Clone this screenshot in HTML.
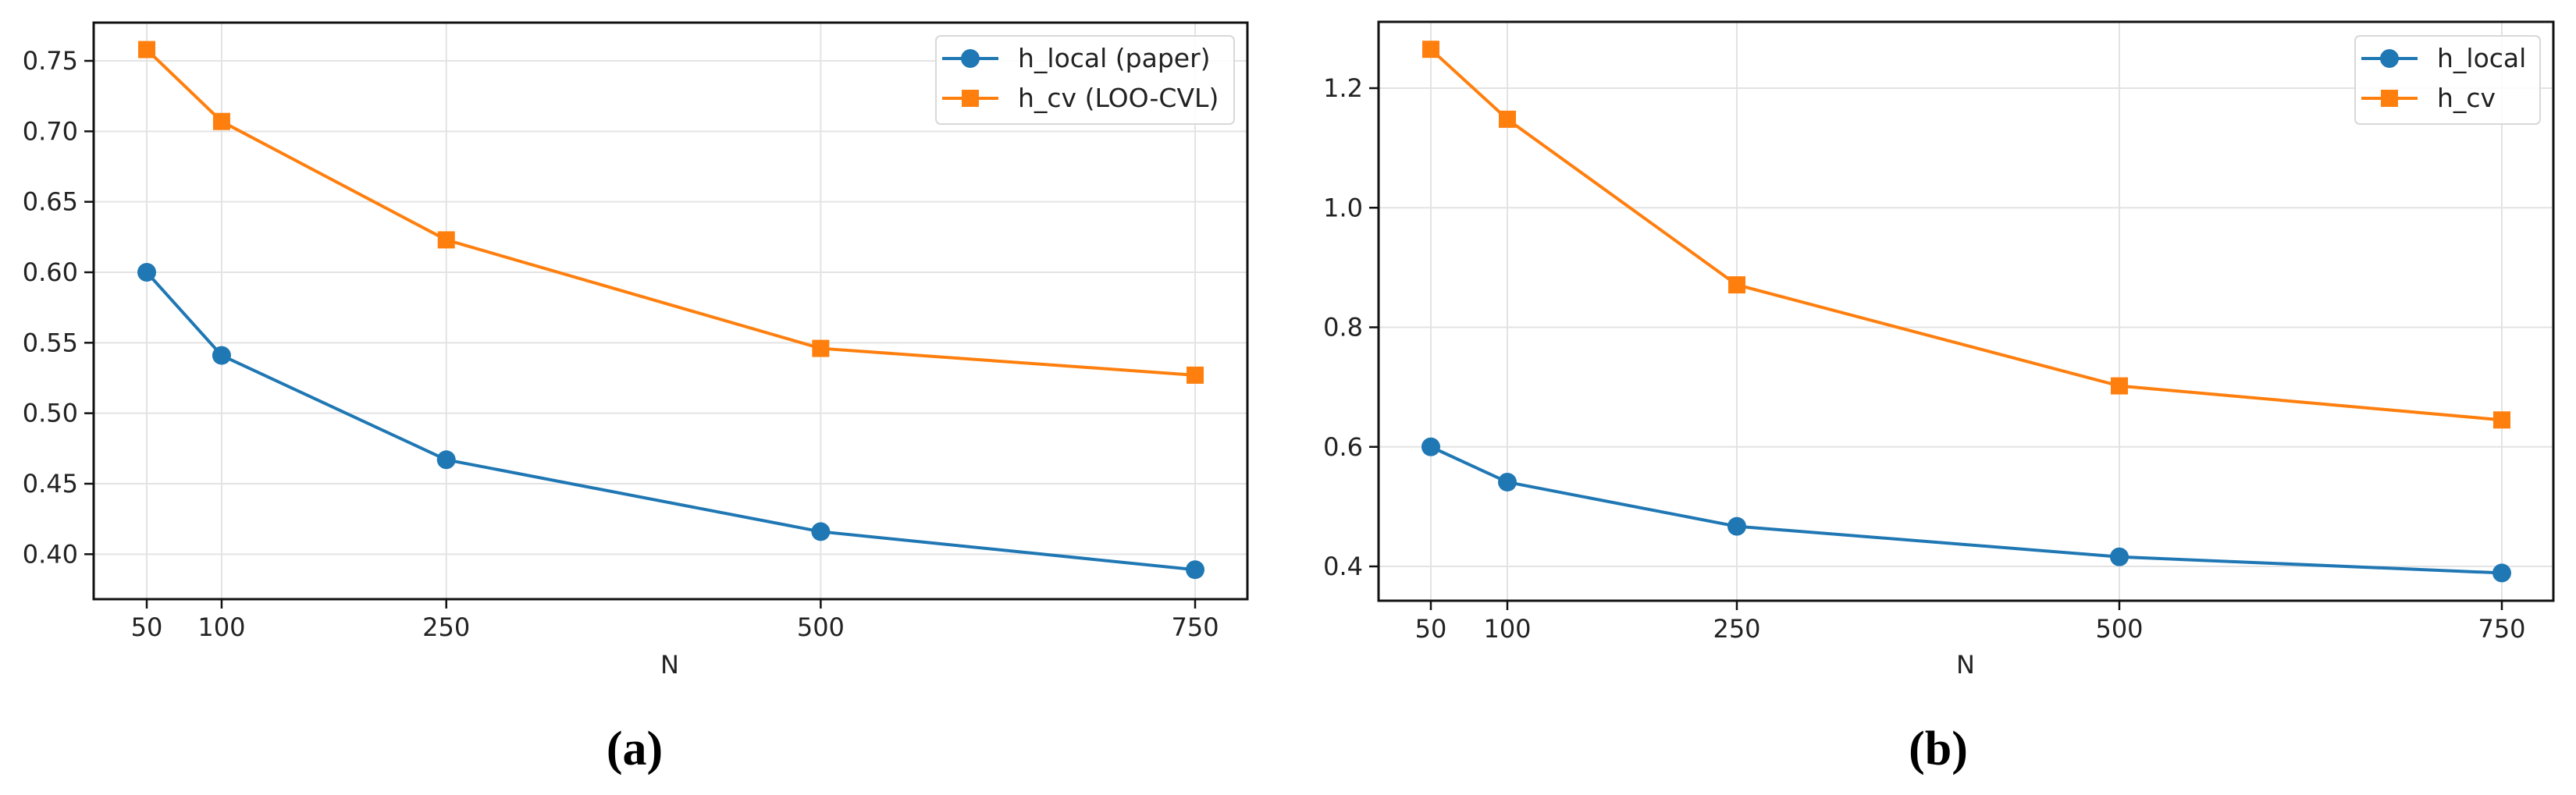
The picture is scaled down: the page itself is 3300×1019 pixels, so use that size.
<!DOCTYPE html>
<html><head><meta charset="utf-8">
<style>
html,body{margin:0;padding:0;background:#fff;}
svg{display:block;}
text{font-family:"DejaVu Sans","Liberation Sans",sans-serif;fill:#222;}
.cap{font-family:"Liberation Serif",serif;font-weight:bold;fill:#000;}
</style></head>
<body>
<svg id="fig" width="3300" height="1019" viewBox="0 0 3300 1019" xmlns="http://www.w3.org/2000/svg"></svg>
<script>
const categoriesN = [50, 100, 250, 500, 750];
const leftLocal = [0.600, 0.541, 0.467, 0.416, 0.389];
const leftCv = [0.758, 0.707, 0.623, 0.546, 0.527];
const rightLocal = [0.600, 0.541, 0.467, 0.416, 0.389];
const rightCv = [1.265, 1.148, 0.871, 0.702, 0.645];
const leftYTicks = [0.40, 0.45, 0.50, 0.55, 0.60, 0.65, 0.70, 0.75];
const leftYTickLabels = ["0.40","0.45","0.50","0.55","0.60","0.65","0.70","0.75"];
const rightYTicks = [0.4, 0.6, 0.8, 1.0, 1.2];
const rightYTickLabels = ["0.4","0.6","0.8","1.0","1.2"];
const leftLegend = ["h_local (paper)", "h_cv (LOO-CVL)"];
const rightLegend = ["h_local", "h_cv"];

const NS = "http://www.w3.org/2000/svg";
const svg = document.getElementById('fig');
function mk(tag, attrs, parent, txt){
  const e = document.createElementNS(NS, tag);
  for (const k in attrs) e.setAttribute(k, attrs[k]);
  if (txt !== undefined) e.textContent = txt;
  (parent || svg).appendChild(e);
  return e;
}
const BLUE = "#1f77b4", ORANGE = "#ff7f0e";

function panel(cfg){
  const g = mk('g', {});
  
  
  const xs = v => cfg.x0 + (v - 50) * cfg.kx;
  const ys = v => cfg.y0 - (v - cfg.v0) * cfg.ky;
  categoriesN.forEach(n => {
    const l = mk('line', {x1:xs(n), x2:xs(n), y1:cfg.top, y2:cfg.bottom, stroke:'#e3e3e3', 'stroke-width':2}, g);
    
    
  });
  cfg.yt.forEach(v => {
    const l = mk('line', {x1:cfg.left, x2:cfg.right, y1:ys(v), y2:ys(v), stroke:'#e3e3e3', 'stroke-width':2}, g);
    
    
  });
  [[cfg.local, BLUE, 'circle', 'h-local-series'], [cfg.cv, ORANGE, 'square', 'h-cv-series']].forEach(([vals, col, shape, nm]) => {
    const pts = vals.map((v, i) => xs(categoriesN[i]) + ',' + ys(v)).join(' ');
    const pl = mk('polyline', {points:pts, fill:'none', stroke:col, 'stroke-width':4, 'stroke-linejoin':'round'}, g);
    
    
    vals.forEach((v, i) => {
      let m;
      if (shape === 'circle') m = mk('circle', {cx:xs(categoriesN[i]), cy:ys(v), r:12, fill:col}, g);
      else m = mk('rect', {x:xs(categoriesN[i]) - 11, y:ys(v) - 11, width:22, height:22, fill:col}, g);
      
      
    });
  });
  const fr = mk('rect', {x:cfg.left, y:cfg.top, width:cfg.right - cfg.left, height:cfg.bottom - cfg.top, fill:'none', stroke:'#111', 'stroke-width':3}, g);
  
  
  categoriesN.forEach(n => {
    mk('line', {x1:xs(n), x2:xs(n), y1:cfg.bottom, y2:cfg.bottom + 12, stroke:'#111', 'stroke-width':2.5}, g);
    const t = mk('text', {x:xs(n), y:cfg.bottom + 47, 'font-size':32, 'text-anchor':'middle'}, g, String(n));
    
    
  });
  cfg.yt.forEach((v, i) => {
    mk('line', {x1:cfg.left - 12, x2:cfg.left, y1:ys(v), y2:ys(v), stroke:'#111', 'stroke-width':2.5}, g);
    const t = mk('text', {x:cfg.left - 20, y:ys(v) + 11, 'font-size':32, 'text-anchor':'end'}, g, cfg.ytl[i]);
    
    
  });
  const xt = mk('text', {x:cfg.nx, y:863, 'font-size':32, 'text-anchor':'middle'}, g, 'N');
  
  
  const lg = mk('g', {}, g);
  
  
  mk('rect', {x:cfg.lgx, y:46, width:cfg.lgw, height:113, rx:6, fill:'#fff', 'fill-opacity':0.85, stroke:'#d8d8d8', 'stroke-width':2}, lg);
  [[BLUE, 'circle', 75], [ORANGE, 'square', 126]].forEach(([col, shape, yy], i) => {
    const e = mk('g', {}, lg);
    
    
    const hx = cfg.lgx + 8;
    mk('line', {x1:hx, x2:hx + 72, y1:yy, y2:yy, stroke:col, 'stroke-width':4}, e);
    if (shape === 'circle') mk('circle', {cx:hx + 36, cy:yy, r:12, fill:col}, e);
    else mk('rect', {x:hx + 25, y:yy - 11, width:22, height:22, fill:col}, e);
    mk('text', {x:hx + 97, y:yy + 11, 'font-size':33}, e, cfg.leg[i]);
  });
  const cap = mk('text', {x:cfg.capx, y:980, 'font-size':62, 'text-anchor':'middle', class:'cap'}, g, cfg.cap);
  
  
}

panel({name:'panel-a', left:120, right:1598, top:29, bottom:768, x0:188, kx:1.9186, y0:349, v0:0.6, ky:1806.7,
  yt:leftYTicks, ytl:leftYTickLabels, local:leftLocal, cv:leftCv, nx:858, lgx:1199, lgw:382, leg:leftLegend, capx:813, cap:'(a)'});
panel({name:'panel-b', left:1766, right:3271, top:28, bottom:770, x0:1833, kx:1.96, y0:726, v0:0.4, ky:766.25,
  yt:rightYTicks, ytl:rightYTickLabels, local:rightLocal, cv:rightCv, nx:2518, lgx:3017, lgw:237, leg:rightLegend, capx:2483, cap:'(b)'});
</script>
</body></html>
